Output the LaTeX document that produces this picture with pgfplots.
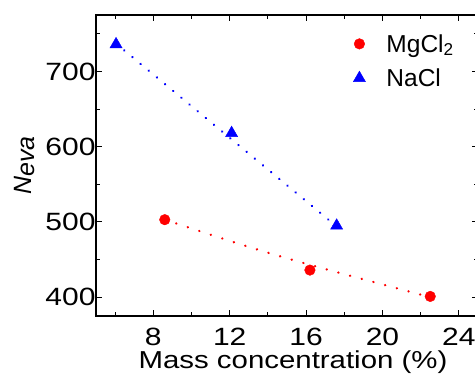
\documentclass[border=0pt]{standalone}
\usepackage{pgfplots}
\pgfplotsset{compat=1.18}
\usepackage{fontspec}
\setmainfont{Liberation Sans}
\newfontfamily\widefont[FakeStretch=1.2]{Liberation Sans}
\begin{document}
\begin{tikzpicture}
\begin{axis}[
  scale only axis,
  width=382pt, height=301pt,
  xmin=5, xmax=25, ymin=375, ymax=775,
  xtick={8,12,16,20,24}, ytick={400,500,600,700},
  minor xtick={6,10,14,18,22}, minor ytick={450,550,650,750},
  tick align=inside,
  major tick length=6pt, minor tick length=4pt,
  every tick/.style={black, line width=1pt},
  axis line style={line width=1.3pt},
  tick label style={font=\widefont\fontsize{25}{28}\selectfont},
  /pgf/number format/assume math mode=true,
  xlabel={Mass concentration (\%)},
  ylabel={\textit{N\raisebox{-3pt}{eva}}},
  xlabel style={font=\widefont\fontsize{24.5}{28}\selectfont, yshift=2pt, xshift=6pt},
  ylabel style={font=\fontsize{25}{28}\selectfont, yshift=4pt},
  xticklabel style={yshift=-9pt},
  yticklabel style={xshift=3pt},
  legend style={at={(0.95,0.95)}, anchor=north east, draw=none, fill=none,
    font=\fontsize{24.5}{26}\selectfont, row sep=11pt, column sep=19pt},
  legend cell align=left,
]
\addplot[only marks, mark=*, red, mark size=5.3pt] coordinates {(8.6,503) (16.2,436) (22.5,401)};
\addlegendentry{MgCl\textsubscript{2}}
\addplot[only marks, mark=triangle*, blue, mark size=7pt] coordinates {(6.05,736) (12.1,618) (17.6,495)};
\addlegendentry{NaCl}
\addplot[red, line width=2.5pt, line cap=round, dash pattern=on 0.1pt off 12pt, smooth, forget plot]
  coordinates {(8.6,503) (12.6,470) (16.2,443) (22.5,400)};
\addplot[blue, line width=2.5pt, line cap=round, dash pattern=on 0.1pt off 10.5pt, forget plot]
  coordinates {(6.05,737) (17.6,494)};
\end{axis}
\pgfresetboundingbox
\path[use as bounding box] (current axis.south west) ++(-96pt,-58pt) rectangle ++(475pt,374pt);
\end{tikzpicture}
\end{document}
